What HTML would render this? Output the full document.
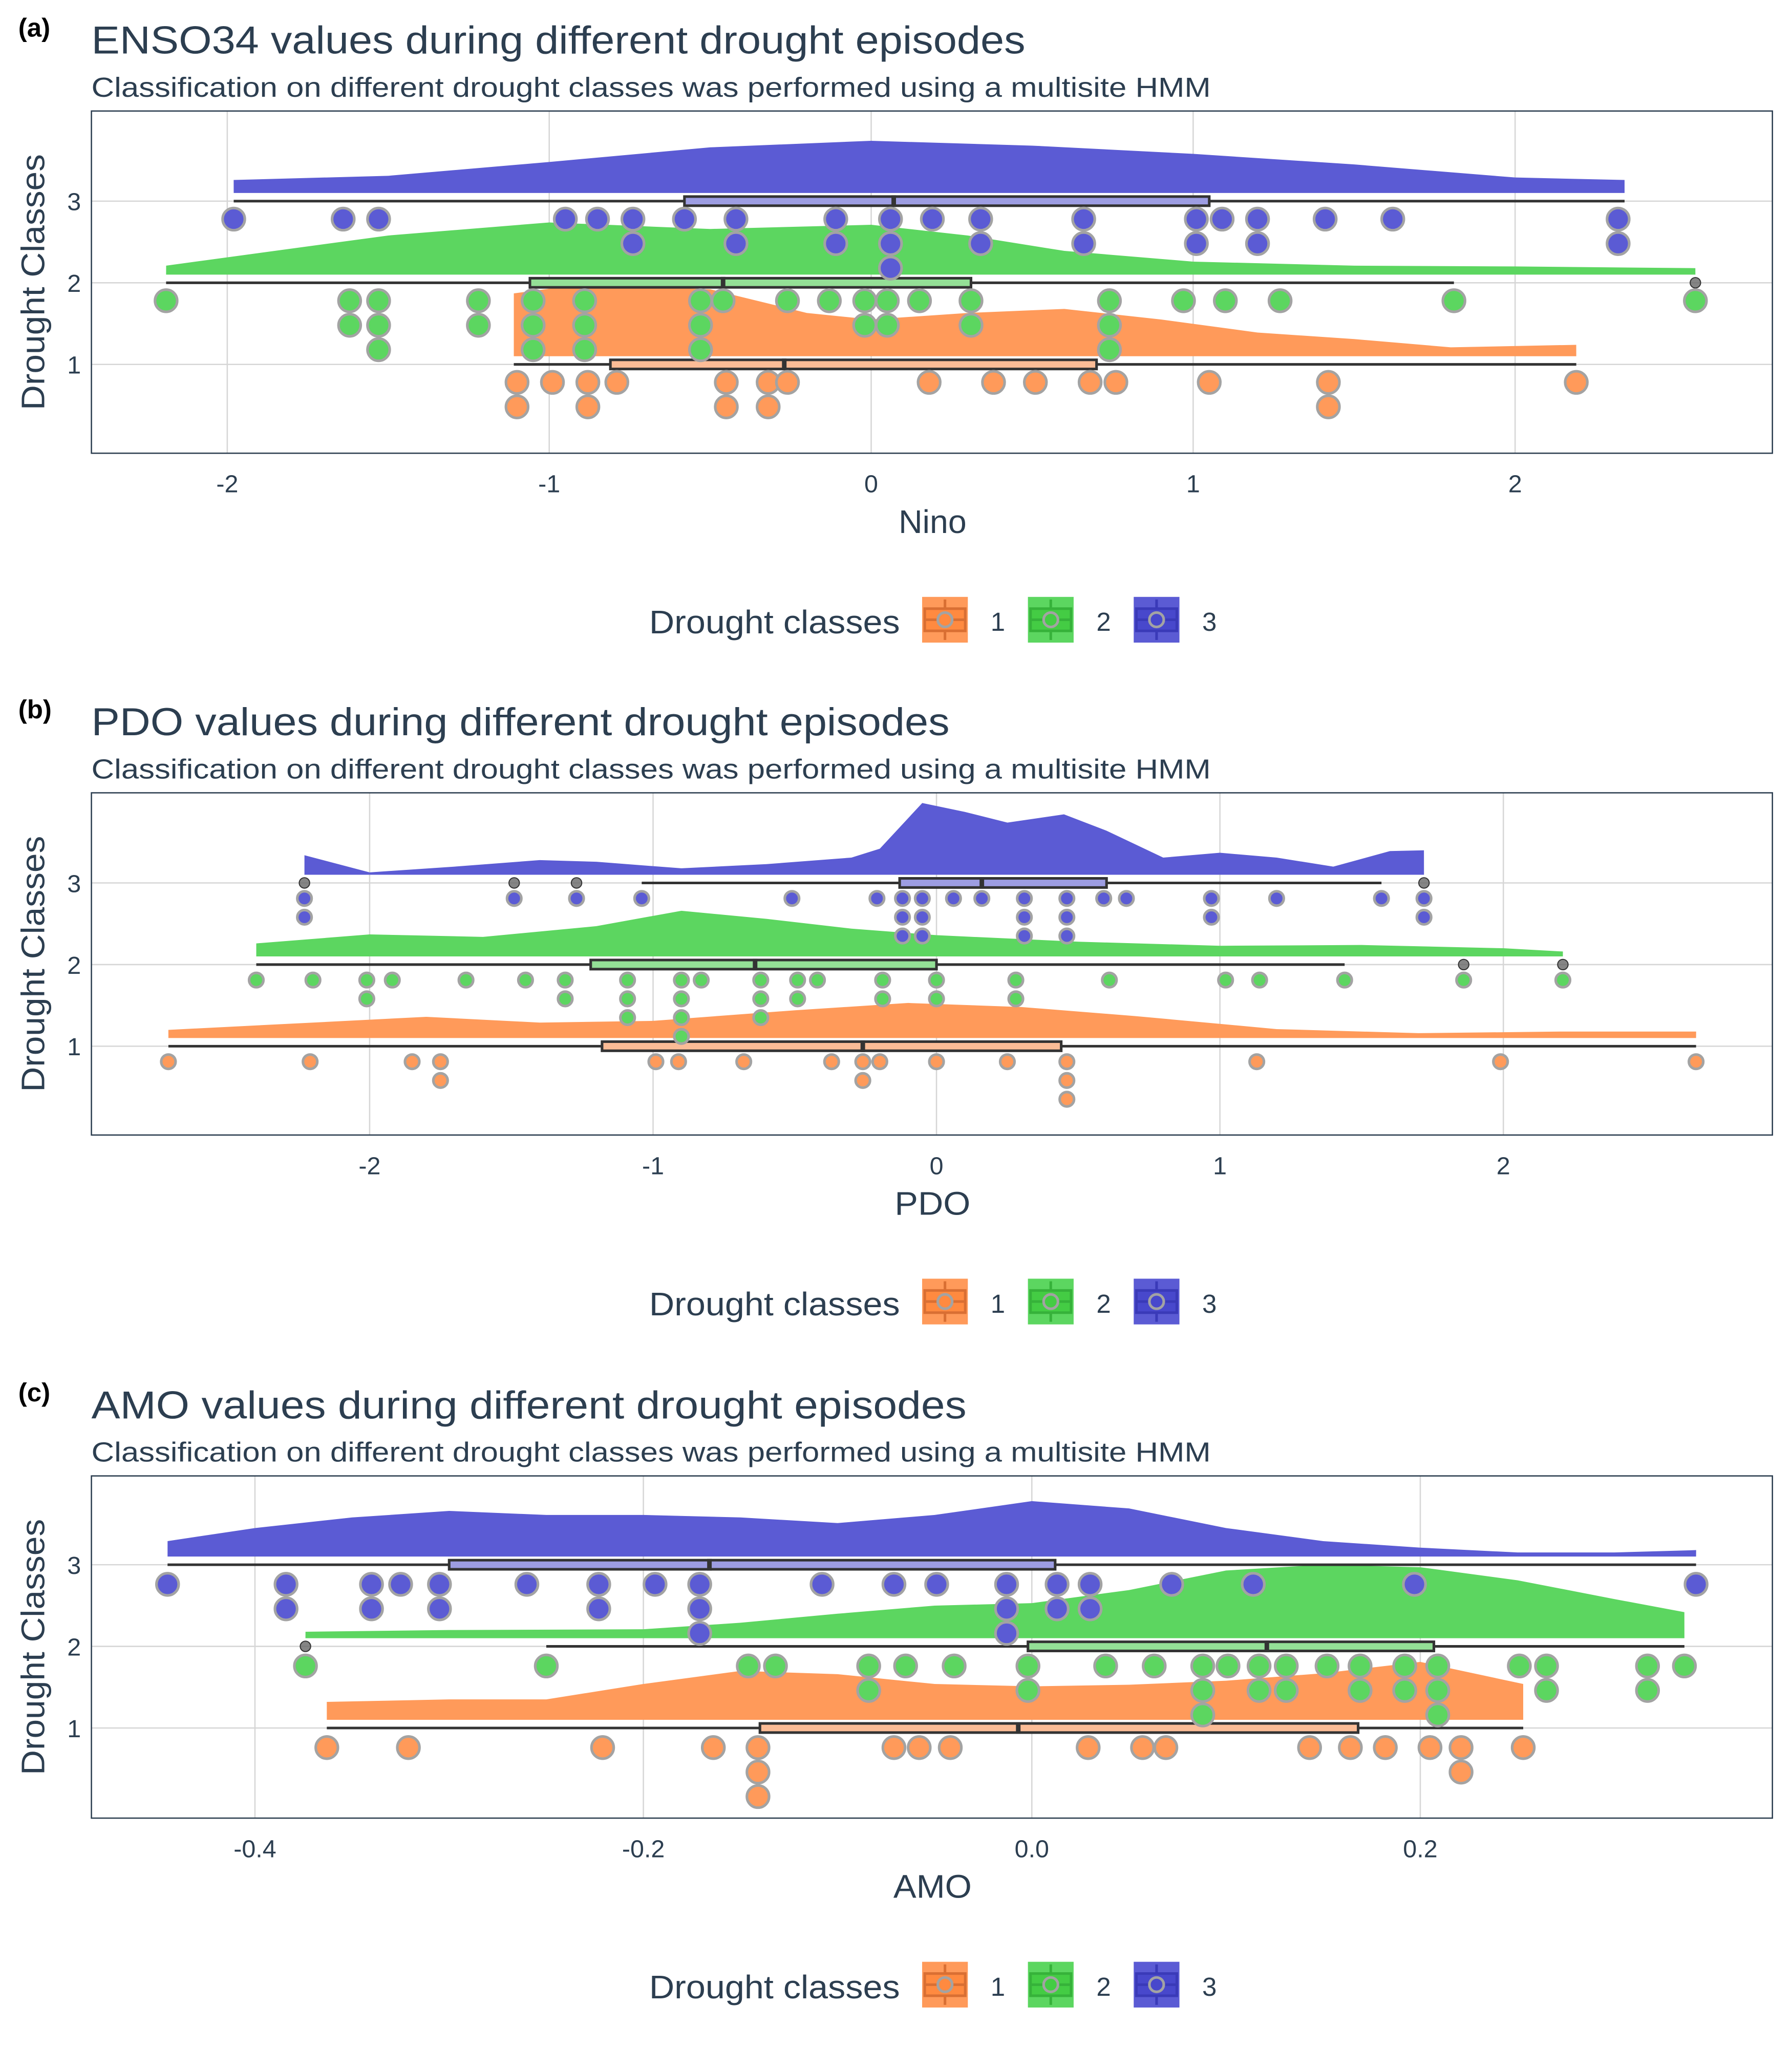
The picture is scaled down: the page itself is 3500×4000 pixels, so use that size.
<!DOCTYPE html>
<html><head><meta charset="utf-8"><style>
html,body{margin:0;padding:0;background:#fff;}
svg{display:block;font-family:"Liberation Sans",sans-serif;}
</style></head><body>
<svg id="fig" width="3500" height="4000" viewBox="0 0 1372 1568" preserveAspectRatio="none" xmlns="http://www.w3.org/2000/svg"></svg>
<script>
// ===== Panel (a) ENSO34 =====
const aTicks = [-2,-1,0,1,2];
const aTickLabels = ["-2","-1","0","1","2"];
const aDots1X = [-1.10,-0.99,-0.88,-0.79,-0.45,-0.32,-0.26,0.18,0.38,0.51,0.68,0.76,1.05,1.42,2.19];
const aDots1N = [2,1,2,1,2,2,1,1,1,1,1,1,1,2,1];
const aDots2X = [-2.19,-1.62,-1.53,-1.22,-1.05,-0.89,-0.53,-0.46,-0.26,-0.13,-0.02,0.05,0.15,0.31,0.74,0.97,1.10,1.27,1.81,2.56];
const aDots2N = [1,2,3,2,3,3,3,1,1,1,2,2,1,2,3,1,1,1,1,1];
const aDots3X = [-1.98,-1.64,-1.53,-0.95,-0.85,-0.74,-0.58,-0.42,-0.11,0.06,0.19,0.34,0.66,1.01,1.09,1.20,1.41,1.62,2.32];
const aDots3N = [1,1,1,1,1,2,1,2,2,3,1,2,2,2,1,2,1,1,2];
// box stats: [whiskerLow, q1, median, q3, whiskerHigh]
const aBox1 = [-1.11,-0.81,-0.27,0.70,2.19];
const aBox2 = [-2.19,-1.06,-0.46,0.31,1.81];
const aBox3 = [-1.98,-0.58,0.07,1.05,2.34];
const aOut1 = [];
const aOut2 = [2.56];
const aOut3 = [];
const aDens1X = [-1.11,-0.9,-0.5,-0.2,0,0.3,0.6,0.9,1.2,1.5,1.8,2.19];
const aDens1H = [0.77,0.88,0.82,0.53,0.45,0.53,0.58,0.45,0.29,0.21,0.11,0.14];
const aDens2X = [-2.19,-1.8,-1.5,-1,-0.5,0,0.3,0.6,1,1.5,2,2.56];
const aDens2H = [0.11,0.32,0.48,0.64,0.56,0.61,0.48,0.29,0.16,0.11,0.10,0.08];
const aDens3X = [-1.98,-1.5,-1,-0.5,0,0.5,1,1.5,2,2.34];
const aDens3H = [0.16,0.21,0.38,0.56,0.64,0.58,0.48,0.35,0.19,0.16];

// ===== Panel (b) PDO =====
const bTicks = [-2,-1,0,1,2];
const bTickLabels = ["-2","-1","0","1","2"];
const bDots1X = [-2.71,-2.21,-1.85,-1.75,-0.99,-0.91,-0.68,-0.37,-0.26,-0.20,0.00,0.25,0.46,1.13,1.99,2.68];
const bDots1N = [1,1,1,2,1,1,1,1,2,1,1,1,3,1,1,1];
const bDots2X = [-2.40,-2.20,-2.01,-1.92,-1.66,-1.45,-1.31,-1.09,-0.90,-0.83,-0.62,-0.49,-0.42,-0.19,0.00,0.28,0.61,1.02,1.14,1.44,1.86,2.21];
const bDots2N = [1,1,2,1,1,1,2,3,4,1,3,2,1,2,2,2,1,1,1,1,1,1];
const bDots3X = [-2.23,-1.49,-1.27,-1.04,-0.51,-0.21,-0.12,-0.05,0.06,0.16,0.31,0.46,0.59,0.67,0.97,1.20,1.57,1.72];
const bDots3N = [2,1,1,1,1,1,3,3,1,1,3,3,1,1,2,1,1,2];
const bBox1 = [-2.71,-1.18,-0.26,0.44,2.68];
const bBox2 = [-2.40,-1.22,-0.64,0.00,1.44];
const bBox3 = [-1.04,-0.13,0.16,0.60,1.57];
const bOut1 = [];
const bOut2 = [1.86,2.21];
const bOut3 = [-2.23,-1.49,-1.27,1.72];
const bDens1X = [-2.71,-2.2,-1.8,-1.4,-1.0,-0.5,-0.1,0.3,0.7,1.2,1.7,2.2,2.68];
const bDens1H = [0.10,0.19,0.26,0.19,0.21,0.34,0.43,0.38,0.27,0.11,0.06,0.08,0.08];
const bDens2X = [-2.40,-2.0,-1.6,-1.2,-0.9,-0.6,-0.3,0,0.5,1.0,1.5,2.0,2.21];
const bDens2H = [0.16,0.27,0.24,0.37,0.56,0.46,0.34,0.26,0.18,0.13,0.14,0.10,0.06];
const bDens3X = [-2.23,-2.0,-1.7,-1.4,-1.2,-0.9,-0.6,-0.3,-0.2,-0.05,0.1,0.25,0.45,0.6,0.8,1.0,1.2,1.4,1.6,1.72];
const bDens3H = [0.24,0.03,0.10,0.18,0.16,0.08,0.13,0.21,0.32,0.88,0.77,0.64,0.74,0.54,0.21,0.27,0.21,0.10,0.29,0.30];

// ===== Panel (c) AMO =====
const cTicks = [-0.4,-0.2,0,0.2];
const cTickLabels = ["-0.4","-0.2","0.0","0.2"];
const cDots1X = [-0.363,-0.321,-0.221,-0.164,-0.141,-0.071,-0.058,-0.042,0.029,0.057,0.069,0.143,0.164,0.182,0.205,0.221,0.253];
const cDots1N = [1,1,1,1,3,1,1,1,1,1,1,1,1,1,1,2,1];
const cDots2X = [-0.374,-0.250,-0.146,-0.132,-0.084,-0.065,-0.040,-0.002,0.038,0.063,0.088,0.101,0.117,0.131,0.152,0.169,0.192,0.209,0.251,0.265,0.317,0.336];
const cDots2N = [1,1,1,1,2,1,1,2,1,1,3,1,2,2,1,2,2,3,1,2,2,1];
const cDots3X = [-0.445,-0.384,-0.340,-0.325,-0.305,-0.260,-0.223,-0.194,-0.171,-0.108,-0.071,-0.049,-0.013,0.013,0.030,0.072,0.114,0.197,0.342];
const cDots3N = [1,2,2,1,2,1,2,1,3,1,1,1,3,2,2,1,1,1,1];
const cBox1 = [-0.363,-0.140,-0.007,0.168,0.253];
const cBox2 = [-0.250,-0.002,0.121,0.207,0.336];
const cBox3 = [-0.445,-0.300,-0.166,0.012,0.342];
const cOut1 = [];
const cOut2 = [-0.374];
const cOut3 = [];
const cDens1X = [-0.363,-0.3,-0.25,-0.2,-0.15,-0.1,-0.05,0,0.05,0.1,0.15,0.2,0.253];
const cDens1H = [0.22,0.25,0.25,0.44,0.60,0.56,0.44,0.41,0.43,0.48,0.57,0.71,0.44];
const cDens2X = [-0.374,-0.3,-0.2,-0.15,-0.1,-0.05,0,0.05,0.1,0.15,0.2,0.25,0.3,0.336];
const cDens2H = [0.08,0.10,0.11,0.19,0.30,0.40,0.43,0.59,0.83,0.90,0.87,0.71,0.48,0.32];
const cDens3X = [-0.445,-0.4,-0.35,-0.3,-0.25,-0.2,-0.15,-0.1,-0.05,0,0.05,0.1,0.15,0.2,0.25,0.3,0.342];
const cDens3H = [0.19,0.35,0.48,0.56,0.51,0.51,0.48,0.41,0.51,0.68,0.59,0.35,0.19,0.11,0.05,0.05,0.08];

const NS = "http://www.w3.org/2000/svg";
const svg = document.getElementById('fig');
const TXT = "#2c3e50";
const COL = {1:"#ff9a5a",2:"#5cd660",3:"#5b5bd4"};
const BOXF = {1:"#fbbc96",2:"#94e096",3:"#9d9de2"};

function el(tag, attrs, parent, text){
  const e = document.createElementNS(NS, tag);
  for (const k in attrs) e.setAttribute(k, attrs[k]);
  if (text !== undefined) e.textContent = text;
  (parent || svg).appendChild(e);
  return e;
}

const panels = [
  {id:"a", tag:"(a)", off:0, x0:667, kx:246.5, y3:154, title:"ENSO34 values during different drought episodes", tlen:715, xlab:"Nino", xlen:52,
   ticks:aTicks, tl:aTickLabels, dx:[aDots1X,aDots2X,aDots3X], dn:[aDots1N,aDots2N,aDots3N], box:[aBox1,aBox2,aBox3], out:[aOut1,aOut2,aOut3],
   densX:[aDens1X,aDens2X,aDens3X], densH:[aDens1H,aDens2H,aDens3H], r:8.5, dOff:0.22, dStep:0.30},
  {id:"b", tag:"(b)", off:522, x0:717, kx:217, y3:676, title:"PDO values during different drought episodes", tlen:657, xlab:"PDO", xlen:58,
   ticks:bTicks, tl:bTickLabels, dx:[bDots1X,bDots2X,bDots3X], dn:[bDots1N,bDots2N,bDots3N], box:[bBox1,bBox2,bBox3], out:[bOut1,bOut2,bOut3],
   densX:[bDens1X,bDens2X,bDens3X], densH:[bDens1H,bDens2H,bDens3H], r:5.5, dOff:0.19, dStep:0.23},
  {id:"c", tag:"(c)", off:1045, x0:790, kx:1487, y3:1198, title:"AMO values  during different drought episodes", tlen:670, xlab:"AMO", xlen:60,
   ticks:cTicks, tl:cTickLabels, dx:[cDots1X,cDots2X,cDots3X], dn:[cDots1N,cDots2N,cDots3N], box:[cBox1,cBox2,cBox3], out:[cOut1,cOut2,cOut3],
   densX:[cDens1X,cDens2X,cDens3X], densH:[cDens1H,cDens2H,cDens3H], r:8.5, dOff:0.24, dStep:0.30}
];
const KY = 62.5;

panels.forEach(p => {
  const o = p.off;
  const g = el('g', {});
  
  
  const X = v => p.x0 + v * p.kx;
  const Y = v => p.y3 + (3 - v) * KY;
  const L = 70, R = 1357, T = 85 + o, B = 347 + o;

  let t = el('text', {x:14, y:28+o, 'font-size':20, 'font-weight':'bold', fill:'#000'}, g, p.tag);
   
  t = el('text', {x:70, y:41+o, 'font-size':30, fill:TXT, textLength:p.tlen, lengthAdjust:'spacingAndGlyphs'}, g, p.title);
   
  t = el('text', {x:70, y:74+o, 'font-size':21, fill:TXT, textLength:857, lengthAdjust:'spacingAndGlyphs'}, g, "Classification on different drought classes was performed using a multisite HMM");
   

  // grid
  p.ticks.forEach(v => {
    const l = el('line', {x1:X(v), x2:X(v), y1:T, y2:B, stroke:'#d6d6d6', 'stroke-width':1}, g);
     
  });
  [1,2,3].forEach(v => {
    const l = el('line', {x1:L, x2:R, y1:Y(v), y2:Y(v), stroke:'#d6d6d6', 'stroke-width':1}, g);
     
  });

  // densities (3,2,1)
  [2,1,0].forEach(i => {
    const xs = p.densX[i], hs = p.densH[i];
    const base = Y(i+1) - 0.1*KY;
    let d = 'M' + X(xs[0]) + ',' + base;
    xs.forEach((xv, j) => { d += ' L' + X(xv).toFixed(1) + ',' + (base - hs[j]*KY).toFixed(1); });
    d += ' L' + X(xs[xs.length-1]) + ',' + base + ' Z';
    const pa = el('path', {d:d, fill:COL[i+1]}, g);
     
  });

  // boxplots
  [0,1,2].forEach(i => {
    const b = p.box[i], yc = Y(i+1);
    const w = el('line', {x1:X(b[0]), x2:X(b[4]), y1:yc, y2:yc, stroke:'#333', 'stroke-width':2}, g);
     
    const r = el('rect', {x:X(b[1]), y:yc-3.5, width:X(b[3])-X(b[1]), height:7, fill:BOXF[i+1], stroke:'#333', 'stroke-width':2}, g);
     
    const m = el('line', {x1:X(b[2]), x2:X(b[2]), y1:yc-4.5, y2:yc+4.5, stroke:'#333', 'stroke-width':3.5}, g);
     
    p.out[i].forEach(v => {
      const c = el('circle', {cx:X(v), cy:yc, r:4, fill:'#666', stroke:'#333', 'stroke-width':0.8, 'fill-opacity':0.8}, g);
       
    });
  });

  // dots
  [0,1,2].forEach(i => {
    p.dx[i].forEach((v, j) => {
      for (let k = 0; k < p.dn[i][j]; k++) {
        const c = el('circle', {cx:X(v), cy:Y(i+1 - p.dOff - k*p.dStep), r:p.r, fill:COL[i+1], stroke:'#a3a3a3', 'stroke-width':2}, g);
         
      }
    });
  });

  // border
  const bd = el('rect', {x:L, y:T, width:R-L, height:B-T, fill:'none', stroke:TXT, 'stroke-width':1}, g);
   

  // tick labels
  p.ticks.forEach((v, j) => {
    const tx = el('text', {x:X(v), y:B+30, 'font-size':19, fill:TXT, 'text-anchor':'middle'}, g, p.tl[j]);
     
  });
  [1,2,3].forEach(v => {
    const tx = el('text', {x:62, y:Y(v)+7, 'font-size':19, fill:TXT, 'text-anchor':'end'}, g, String(v));
     
  });
  t = el('text', {x:714, y:B+61, 'font-size':25, fill:TXT, 'text-anchor':'middle', textLength:p.xlen, lengthAdjust:'spacingAndGlyphs'}, g, p.xlab);
   
  t = el('text', {x:0, y:0, 'font-size':25, fill:TXT, 'text-anchor':'middle', textLength:196, lengthAdjust:'spacingAndGlyphs', transform:'translate(34,'+(216+o)+') rotate(-90)'}, g, "Drought Classes");
   

  // legend
  const lg = el('g', {}, g);
   
  t = el('text', {x:497, y:485+o, 'font-size':25, fill:TXT, textLength:192, lengthAdjust:'spacingAndGlyphs'}, lg, "Drought classes");
   
  const kx = [706, 787, 868], dark = {1:"#d96f33",2:"#36b23a",3:"#3a3ab8"}, fill2 = {1:"#ff8a40",2:"#44cc44",3:"#4848cc"};
  [1,2,3].forEach((c, j) => {
    const kg = el('g', {}, lg);
     
    const x = kx[j], y = 457 + o;
    el('rect', {x:x, y:y, width:35, height:35, fill:COL[c]}, kg);
    el('rect', {x:x+2, y:y+9, width:31, height:17, fill:fill2[c], stroke:dark[c], 'stroke-width':2}, kg);
    el('line', {x1:x+2, x2:x+33, y1:y+17.5, y2:y+17.5, stroke:dark[c], 'stroke-width':2}, kg);
    el('line', {x1:x+17.5, x2:x+17.5, y1:y+2, y2:y+9, stroke:dark[c], 'stroke-width':2}, kg);
    el('line', {x1:x+17.5, x2:x+17.5, y1:y+26, y2:y+33, stroke:dark[c], 'stroke-width':2}, kg);
    el('ellipse', {cx:x+17.5, cy:y+17.5, rx:5.5, ry:5.5, fill:fill2[c], stroke:'#a3a3a3', 'stroke-width':2}, kg);
    const lt = el('text', {x:x+58, y:y+26, 'font-size':20, fill:TXT, 'text-anchor':'middle'}, kg, String(c));
     
  });
});
</script>
</body></html>
